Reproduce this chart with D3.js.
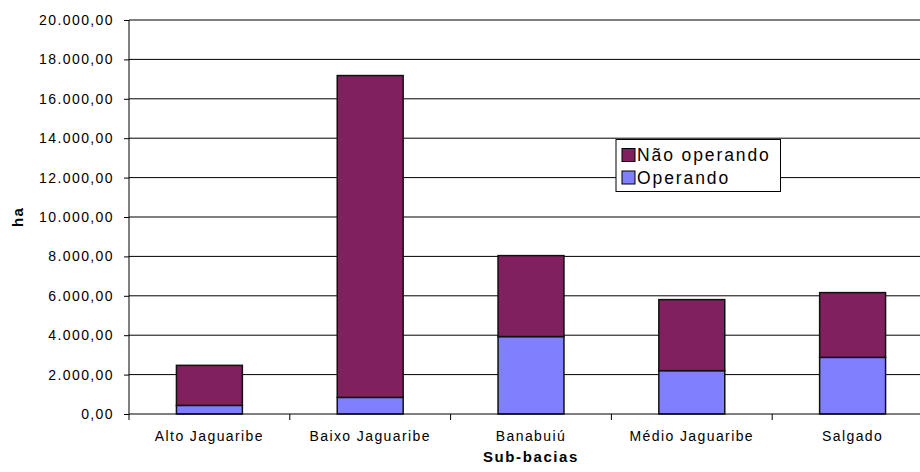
<!DOCTYPE html>
<html><head><meta charset="utf-8">
<script src="https://cdn.jsdelivr.net/npm/d3@7"></script>
<style>
body{margin:0;background:#fff;}
svg text{font-family:"Liberation Sans",Arial,sans-serif;fill:#000;}
</style></head>
<body><svg id="c" width="920" height="472"></svg>
<script>
const categories = ["Alto Jaguaribe","Baixo Jaguaribe","Banabuiú","Médio Jaguaribe","Salgado"];
const operando = [437, 843, 3930, 2200, 2875];
const naoOperando = [2033, 16337, 4110, 3606, 3287];
const yTicks = [0,2000,4000,6000,8000,10000,12000,14000,16000,18000,20000];
const seriesNames = ["Não operando","Operando"];
const seriesColors = ["#80205F","#8080FF"];

const svg = d3.select("#c");
const pLeft = 129, pRight = 933, pTop = 20, pBottom = 414;
const y = d3.scaleLinear().domain([0,20000]).range([pBottom, pTop]);
const xSlots = d3.scaleBand().domain(categories).range([pLeft,pRight]).padding(0);
const xBars = d3.scaleBand().domain(categories).range([pLeft,pRight]).paddingInner(0.59).paddingOuter(0.295);
const loc = d3.formatLocale({decimal:",", thousands:".", grouping:[3], currency:["",""]});
const fmt = loc.format(",.2f");

// gridlines
svg.append("g").selectAll("line").data(yTicks.filter(d=>d>0)).join("line")
  .attr("x1",pLeft).attr("x2",pRight).attr("y1",d=>y(d)).attr("y2",d=>y(d))
  .attr("stroke","#000").attr("stroke-width",1);

// stacked bars
const rows = categories.map((c,i)=>({cat:c, Operando:operando[i], "Não operando":naoOperando[i]}));
const stack = d3.stack().keys(["Operando","Não operando"])(rows);
const colorOf = {"Operando":seriesColors[1], "Não operando":seriesColors[0]};
stack.forEach(layer=>{
  svg.append("g").selectAll("rect").data(layer).join("rect")
    .attr("x",d=>xBars(d.data.cat)).attr("width",xBars.bandwidth())
    .attr("y",d=>y(d[1])).attr("height",d=>y(d[0])-y(d[1]))
    .attr("fill",colorOf[layer.key]).attr("stroke","#111").attr("stroke-width",1.5);
});

// y axis
const yAxis = svg.append("g").attr("transform",`translate(${pLeft},0)`)
  .call(d3.axisLeft(y).tickValues(yTicks).tickFormat(fmt).tickSize(5).tickPadding(10));
yAxis.select(".domain").attr("stroke","#000").attr("d",`M0,${pBottom}V${pTop}`);
yAxis.selectAll(".tick line").attr("stroke","#000");
yAxis.selectAll("text").attr("font-size",14).attr("letter-spacing",1.4).attr("fill","#000");

// x axis
const xAxis = svg.append("g").attr("transform",`translate(0,${pBottom})`)
  .call(d3.axisBottom(xSlots).tickSize(0).tickPadding(17));
xAxis.select(".domain").attr("stroke","#000").attr("d",`M${pLeft},0H${pRight}`);
xAxis.selectAll("text").attr("font-size",14).attr("letter-spacing",1.4).attr("fill","#000");
const bounds = categories.map(c=>xSlots(c)).concat([xSlots(categories[categories.length-1])+xSlots.bandwidth()]);
xAxis.selectAll(".bt").data(bounds).join("line").attr("class","bt")
  .attr("x1",d=>d).attr("x2",d=>d).attr("y1",0).attr("y2",6).attr("stroke","#000");

// axis titles
svg.append("text").attr("x",(pLeft+pRight)/2).attr("y",462).attr("text-anchor","middle")
  .attr("font-size",15).attr("font-weight","bold").attr("letter-spacing",1.6).text("Sub-bacias");
svg.append("text").attr("transform",`translate(23,${(pTop+pBottom)/2}) rotate(-90)`).attr("text-anchor","middle")
  .attr("font-size",15).attr("font-weight","bold").attr("letter-spacing",1.2).text("ha");

// legend
const lg = svg.append("g").attr("transform","translate(616,139.5)");
lg.append("rect").attr("width",164.5).attr("height",52).attr("fill","#fff").attr("stroke","#000").attr("stroke-width",1);
seriesNames.forEach((n,i)=>{
  const gy = 9 + i*22.5;
  lg.append("rect").attr("x",6).attr("y",gy).attr("width",13).attr("height",13)
    .attr("fill",seriesColors[i]).attr("stroke","#000").attr("stroke-width",1);
  lg.append("text").attr("x",21).attr("y",gy+12.5).attr("font-size",17.5).attr("letter-spacing",1.9).text(n);
});
</script></body></html>
